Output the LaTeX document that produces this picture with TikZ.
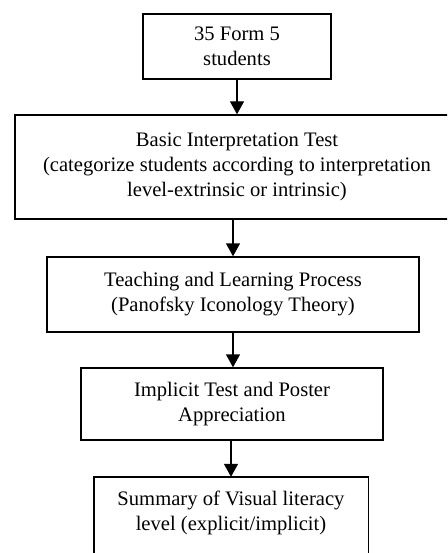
\documentclass[tikz,border=0pt]{standalone}
\usepackage{fontspec}
\setmainfont{Liberation Serif}
\usetikzlibrary{arrows.meta}
\tikzset{
  boxline/.style={draw=black, line width=1.4pt},
  box/.style={boxline, align=center, inner sep=0pt, font=\fontsize{20.6}{25}\selectfont},
  plain/.style={align=center, inner sep=0pt, font=\fontsize{20.6}{25}\selectfont},
  arr/.style={line width=1.4pt, -{Triangle[width=14pt,length=13pt]}}
}
\begin{document}
\begin{tikzpicture}[x=1pt,y=-1pt]
\clip (0,0) rectangle (447,553);
\fill[white] (0,0) rectangle (447,553);
\node[box, minimum width=188, minimum height=65] (b1) at (237,46.5) {35 Form 5\\students};
\node[box, minimum width=444, minimum height=104] (b2) at (237,167) {Basic Interpretation Test\\(categorize students according to interpretation\\level-extrinsic or intrinsic)};
\node[box, minimum width=372, minimum height=75] (b3) at (233,294.5) {Teaching and Learning Process\\(Panofsky Iconology Theory)};
\node[box, minimum width=302, minimum height=72] (b4) at (232,404) {Implicit Test and Poster\\Appreciation};
\node[plain, minimum width=274, minimum height=72] (b5) at (231,513) {Summary of Visual literacy\\level (explicit/implicit)};
\draw[boxline] ([yshift=-40]b5.south west) |- (b5.north east) -- ++(0,80);
\draw[arr] (b1.south) -- (b2.north -| b1.south);
\draw[arr] (b3.north |- b2.south) -- (b3.north);
\draw[arr] (b3.south) -- (b4.north -| b3.south);
\draw[arr] (b5.north |- b4.south) -- (b5.north);
\end{tikzpicture}
\end{document}
